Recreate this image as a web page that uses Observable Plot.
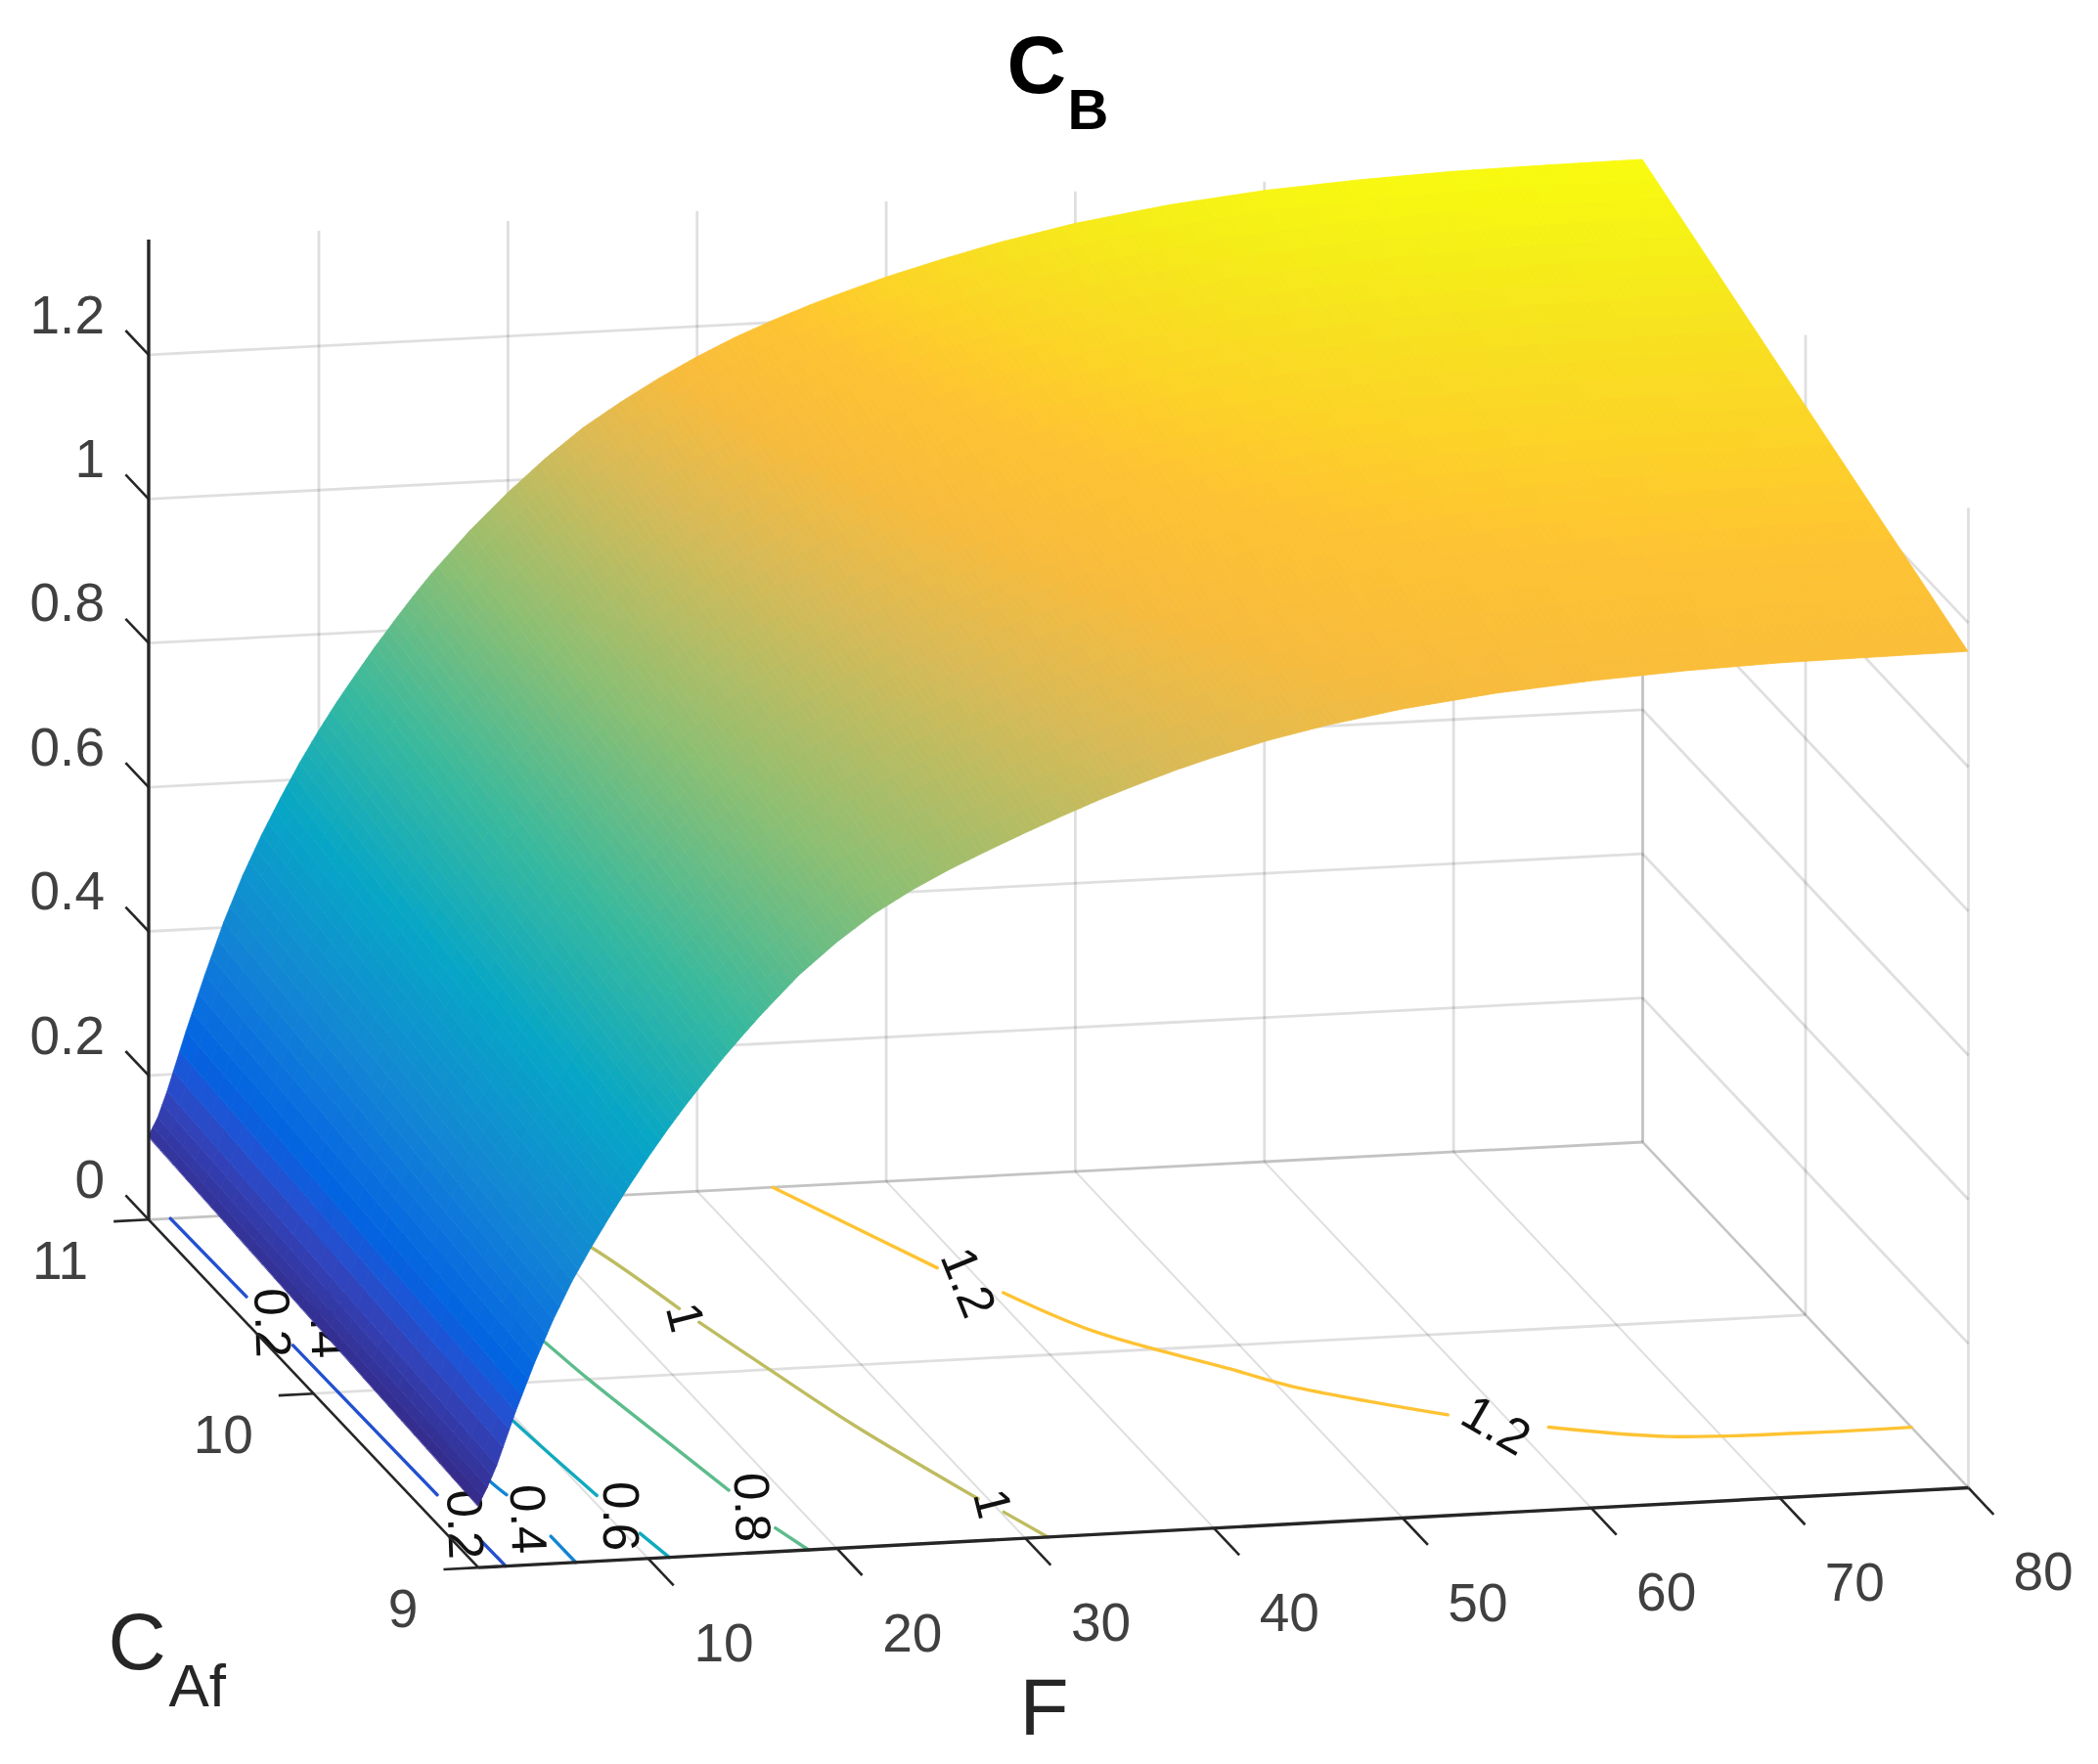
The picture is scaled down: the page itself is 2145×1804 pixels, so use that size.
<!DOCTYPE html>
<html><head><meta charset="utf-8">
<script src="https://cdn.jsdelivr.net/npm/d3@7"></script>
<script src="https://cdn.jsdelivr.net/npm/@observablehq/plot@0.6"></script>
<style>html,body{margin:0;padding:0;background:#fff}svg{display:block}</style>
</head><body><div id="chart"></div>
<script>
// ---- values ----
const flowF   = [1,1.5,2,3,4,5,6,7,8,9,10,11,12,13,14,15,16,18,20,22,24,26,28,30,32,34,36,38,40,43,46,50,55,60,65,70,75,80];
const cbAt11  = [.115,.14,.176,.258,.335,.407,.47,.525,.575,.622,.665,.705,.742,.778,.812,.845,.876,.932,.982,1.027,1.067,1.1,1.13,1.157,1.181,1.202,1.221,1.238,1.254,1.275,1.294,1.315,1.334,1.347,1.355,1.36,1.362,1.363];
const cbAt10  = [.1,.125,.158,.2355,.307,.3725,.43,.48,.526,.5695,.61,.648,.6835,.7175,.75,.781,.8105,.8645,.911,.952,.987,1.0165,1.043,1.0675,1.09,1.1105,1.129,1.146,1.1615,1.182,1.1995,1.2185,1.2355,1.247,1.2545,1.259,1.2605,1.2615];
const cbAt9   = [.085,.11,.14,.213,.279,.338,.39,.435,.477,.517,.555,.591,.625,.657,.688,.717,.745,.797,.84,.877,.907,.933,.956,.978,.999,1.019,1.037,1.054,1.069,1.089,1.105,1.122,1.137,1.147,1.154,1.158,1.159,1.16];
const cafKnots = [9,10,11];
const fTicks = [10,20,30,40,50,60,70,80];
const cafTicks = [9,10,11];
const zTicks = [0,.2,.4,.6,.8,1,1.2];
const zTickLabels = ["0","0.2","0.4","0.6","0.8","1","1.2"];
const fMin = 1, fMax = 80, cafMin = 9, cafMax = 11, zTop = 1.36;
// contour pieces on the floor: level, then F and CAf along the piece
const contourLevels = [.2,.2,.2,.4,.4,.4,.6,.6,.8,.8,1,1,1,1.2,1.2,1.2];
const contourF = [[2.15,2.25],[2.27,2.4],[2.42,2.45],[4.9,5.1],[5.2,5.73,5.9],[6.15,6.16],[8.6,9.76,10.42],[10.79,11.12],[13.6,15.15,15.55,16.64,17.33],[17.88,18.5],[20,22,23.5],[23.85,25.1,26.75,29.5],[30.16,31.2],[34,38.45],[40.6,43.35,48.4,50.7,57.2],[61.7,67.35,74.5,80]];
const contourC = [[11,10.55],[10.27,9.41],[9.14,9],[11,10.55],[10.1,9.46,9.39],[9.15,9],[11,9.79,9.36],[9.14,9],[11,10.2,10,9.6,9.35],[9.13,9],[11,10.72,10.36],[10.28,10.01,9.67,9.23],[9.15,9],[11,10.51],[10.355,10.115,9.87,9.756,9.554],[9.457,9.37,9.35,9.35]];
const labelText = ["0.2","0.4","0.2","0.4","0.6","0.8","1","1","1.2","1.2"];
const labelF = [2.26,5.03,2.34,5.78,10.56,17.64,23.34,29.96,39.27,59.1];
const labelC = [10.4,10.38,9.24,9.25,9.24,9.25,10.31,9.2,10.42,9.48];
const labelTurn = [88,88,88,88,90,88,76,76,68,30];
// colormap stops (share of the colour range, colour)
const cmapAt = [0,.0635,.095,.127,.19,.254,.38,.5,.635,.76,.825,.875,.905,.94,.97,1];
const cmapColor = ["#352a87","#3243ba","#2053d4","#0363e1","#0d75dc","#1387d3","#07a6c6","#38b99e","#8cbf73","#d9ba56","#f8bb3c","#fec332","#fdd028","#f8df20","#f5ee17","#f9fb0e"];

// ---- view: box corners on the page, height per unit of CB ----
const corner = {
  left:[151.5,1246.8],   // F=1, CAf=11
  front:[488.6,1602.6],  // F=1, CAf=9
  right:[2012,1521],     // F=80, CAf=9
  back:[1679,1167.5]     // F=80, CAf=11
};
const zUnit = 737;
function project(F,C,z=0){
  const u=(F-fMin)/(fMax-fMin), v=(cafMax-C)/(cafMax-cafMin);
  const a=i=>(1-u)*((1-v)*corner.left[i]+v*corner.front[i])+u*((1-v)*corner.back[i]+v*corner.right[i]);
  return [a(0),a(1)-z*zUnit];
}
const px=(F,C,z=0)=>project(F,C,z)[0], py=(F,C,z=0)=>project(F,C,z)[1];

// height on the surface, for shading between the read rows
function cbAt(F,C){
  const rows=[cbAt9,cbAt10,cbAt11];
  let i=d3.bisectRight(flowF,F)-1; i=Math.max(0,Math.min(flowF.length-2,i));
  const t=(F-flowF[i])/(flowF[i+1]-flowF[i]);
  let j=Math.max(0,Math.min(1,Math.floor(C-cafKnots[0])));
  const s=C-cafKnots[j];
  const r0=rows[j][i]*(1-t)+rows[j][i+1]*t, r1=rows[j+1][i]*(1-t)+rows[j+1][i+1]*t;
  return r0*(1-s)+r1*s;
}
// shading mesh
const meshF=[];
for(let i=0;i<flowF.length-1;i++){
  const w=(flowF[i+1]-flowF[i])*19.3, n=Math.max(1,Math.ceil(w/7));
  for(let k=0;k<n;k++) meshF.push(flowF[i]+(flowF[i+1]-flowF[i])*k/n);
}
meshF.push(fMax);
const meshN=26;
const meshC=d3.range(meshN+1).map(k=>cafMin+(cafMax-cafMin)*k/meshN);
const cells=[];
let cellId=0;
for(let i=0;i<meshF.length-1;i++) for(let j=0;j<meshN;j++){
  const F0=meshF[i],F1=meshF[i+1],C0=meshC[j],C1=meshC[j+1];
  const lvl=(cbAt(F0,C0)+cbAt(F1,C0)+cbAt(F0,C1)+cbAt(F1,C1))/4;
  cells.push({id:cellId,lvl,x1:px(F0,C0,cbAt(F0,C0)),y1:py(F0,C0,cbAt(F0,C0)),x2:px(F0,C1,cbAt(F0,C1)),y2:py(F0,C1,cbAt(F0,C1))});
  cells.push({id:cellId,lvl,x1:px(F1,C0,cbAt(F1,C0)),y1:py(F1,C0,cbAt(F1,C0)),x2:px(F1,C1,cbAt(F1,C1)),y2:py(F1,C1,cbAt(F1,C1))});
  cellId++;
}
const zLo=d3.min(cbAt9), zHi=d3.max(cbAt11);

// lines in the box
const seg=(a,b)=>({x1:px(...a),y1:py(...a),x2:px(...b),y2:py(...b)});
const wallLines=[
  ...fTicks.map(f=>seg([f,cafMax,0],[f,cafMax,zTop])),
  ...zTicks.map(z=>seg([fMin,cafMax,z],[fMax,cafMax,z])),
  ...cafTicks.map(c=>seg([fMax,c,0],[fMax,c,zTop])),
  ...zTicks.map(z=>seg([fMax,cafMin,z],[fMax,cafMax,z])),
  ...cafTicks.map(c=>seg([fMin,c,0],[fMax,c,0]))
];
const floorLines=fTicks.map(f=>seg([f,cafMin,0],[f,cafMax,0]));
const axisLines=[
  seg([fMin,cafMax,0],[fMin,cafMax,zTop]),
  seg([fMin,cafMin,0],[fMax,cafMin,0])
];
const axisSlant=[seg([fMin,cafMin,0],[fMin,cafMax,0])];
const tickLines=[
  ...fTicks.map(f=>seg([f,cafMin,0],[f,cafMin-.155,0])),
  ...cafTicks.map(c=>seg([fMin,c,0],[fMin-1.85,c,0])),
  ...zTicks.map(z=>seg([fMin,cafMax,z],[fMin,cafMax+.14,z]))
];
const contourRows=contourLevels.flatMap((level,i)=>contourF[i].map((f,k)=>({piece:i,level,x:px(f,contourC[i][k]),y:py(f,contourC[i][k])})));
const labelRows=labelText.map((t,i)=>({t,x:px(labelF[i],labelC[i]),y:py(labelF[i],labelC[i]),r:labelTurn[i]}));

const font="Liberation Sans";
const tickInk="#404040";
const chart=Plot.plot({
  width:2145,height:1804,margin:0,
  style:{background:"#fff",fontFamily:font},
  x:{domain:[0,2145],range:[0,2145],axis:null},
  y:{domain:[0,1804],range:[0,1804],axis:null},
  color:{type:"linear",domain:cmapAt.map(s=>zLo+s*(zHi-zLo)),range:cmapColor,clamp:true,legend:false},
  marks:[
    Plot.link(wallLines,{x1:"x1",y1:"y1",x2:"x2",y2:"y2",stroke:"#262626",strokeOpacity:.15,strokeWidth:2.8}),
    Plot.link(floorLines,{x1:"x1",y1:"y1",x2:"x2",y2:"y2",stroke:"#262626",strokeOpacity:.15,strokeWidth:2}),
    Plot.line(contourRows,{x:"x",y:"y",z:"piece",stroke:"level",strokeWidth:3.4,curve:"catmull-rom"}),
    Plot.text(labelRows,{x:"x",y:"y",text:"t",rotate:"r",fontSize:51,fill:"#111",fontFamily:font,textAnchor:"middle"}),
    Plot.area(cells,{x1:"x1",y1:"y1",x2:"x2",y2:"y2",z:"id",fill:"lvl",stroke:"lvl",strokeWidth:.8}),
    Plot.link(axisLines,{x1:"x1",y1:"y1",x2:"x2",y2:"y2",stroke:"#262626",strokeWidth:3.4}),
    Plot.link(axisSlant,{x1:"x1",y1:"y1",x2:"x2",y2:"y2",stroke:"#262626",strokeWidth:2.6}),
    Plot.link(tickLines,{x1:"x1",y1:"y1",x2:"x2",y2:"y2",stroke:"#262626",strokeWidth:2.6}),
    Plot.text(fTicks,{x:f=>px(f,8.54),y:f=>py(f,8.54),text:f=>String(f),dy:6,fontSize:55,fill:tickInk,fontFamily:font}),
    Plot.text(cafTicks,{x:c=>px(fMin-3.3,c),y:c=>py(fMin-3.3,c),text:c=>String(c),dx:2,dy:40,fontSize:55,fill:tickInk,fontFamily:font,textAnchor:"end"}),
    Plot.text(zTicks,{x:()=>px(fMin,cafMax)-45,y:z=>py(fMin,cafMax,z),text:(z,i)=>zTickLabels[i],dy:-40,fontSize:55,fill:tickInk,fontFamily:font,textAnchor:"end"}),
    // title and axis names
    Plot.text(["C"],{frameAnchor:"top-left",dx:1029,dy:35,fontSize:84,fontWeight:"bold",fill:"#000",textAnchor:"start",lineAnchor:"top",fontFamily:font}),
    Plot.text(["B"],{frameAnchor:"top-left",dx:1091,dy:90,fontSize:58,fontWeight:"bold",fill:"#000",textAnchor:"start",lineAnchor:"top",fontFamily:font}),
    Plot.text(["F"],{frameAnchor:"top-left",dx:1042,dy:1715,fontSize:82,fill:"#262626",textAnchor:"start",lineAnchor:"top",fontFamily:font}),
    Plot.text(["C"],{frameAnchor:"top-left",dx:110,dy:1648,fontSize:82,fill:"#262626",textAnchor:"start",lineAnchor:"top",fontFamily:font}),
    Plot.text(["Af"],{frameAnchor:"top-left",dx:172,dy:1700,fontSize:62,fill:"#262626",textAnchor:"start",lineAnchor:"top",fontFamily:font})
  ]
});
document.getElementById("chart").append(chart);
</script>
</body></html>
